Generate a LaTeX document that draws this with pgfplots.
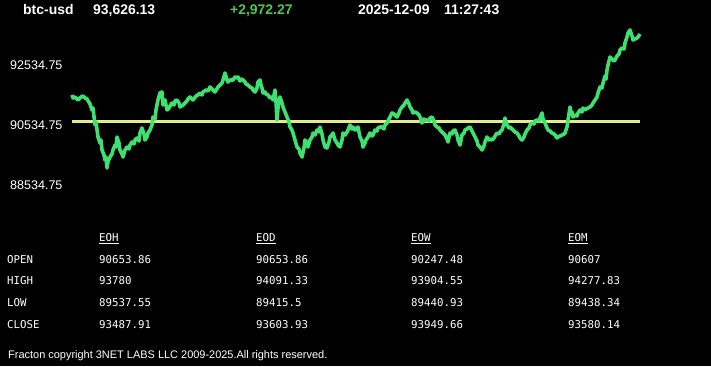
\documentclass[border=0pt]{standalone}
\usepackage{pgfplots}
\pgfplotsset{compat=1.18}
\usepackage{pgfplotstable}
\usepackage{fontspec}
\setmainfont{Liberation Sans}
\newfontfamily\monofont{DejaVu Sans Mono}
\definecolor{linegreen}{RGB}{62,224,112}
\definecolor{openyellow}{RGB}{226,236,140}
\definecolor{chggreen}{RGB}{76,200,76}

\pgfplotstableread{
t p
0 91535
1 91435
3 91468
5 91401
6 91368
9 91468
11 91501
13 91435
15 91401
18 91235
20 91035
21 91101
23 90535
24 90635
26 90135
28 89935
29 90035
30 89701
32 89535
33 89368
34 89468
35 89101
36 89301
38 89468
40 89568
41 89701
43 89868
44 89801
45 90135
47 89935
48 89701
50 89568
51 89468
53 89701
55 89801
57 89735
58 89868
60 89968
62 89901
63 90035
65 90101
67 90001
68 90268
70 90435
72 90235
73 90035
75 90135
76 90268
78 90368
80 90535
81 90801
83 90735
84 91035
86 91368
88 91601
90 91635
91 91201
93 91368
95 91035
97 91101
98 91168
100 91268
102 91201
103 91335
105 91368
107 91268
108 91135
111 91201
113 91268
115 91335
116 91401
118 91468
120 91401
121 91368
124 91501
126 91535
128 91601
130 91535
131 91635
134 91701
136 91668
138 91801
141 91701
143 91635
146 91801
148 91868
150 91935
151 92035
153 92268
155 92035
156 91968
158 92035
161 92035
163 92135
164 92101
166 92135
168 92001
169 92068
171 92035
173 91968
174 91901
176 91868
178 91801
180 91768
181 91701
183 91635
185 91768
186 91968
188 92035
189 91868
190 91768
191 91601
193 91635
194 91568
196 91535
198 91435
200 91468
201 91368
203 91701
204 91301
205 90701
206 91101
207 91368
208 91468
210 91268
211 91135
213 90968
215 90801
217 90635
218 90468
220 90368
221 90268
223 90035
225 89801
227 89735
228 89601
230 89468
232 89768
233 90035
235 89935
236 89801
238 90035
240 90135
241 90268
243 90201
245 90368
247 90301
248 90468
250 90235
251 90035
253 89801
255 89768
257 89968
258 90135
260 90201
261 90268
263 90035
265 89935
266 89868
268 89801
270 90035
271 90268
273 90201
275 90301
276 90368
278 90535
280 90401
281 90468
283 90368
285 90435
286 90468
288 90135
290 90001
291 89801
293 89935
294 90035
296 90135
298 90268
300 90168
301 90201
303 90368
305 90335
306 90435
308 90468
310 90468
312 90401
313 90535
315 90601
317 90735
318 90801
320 90935
322 90901
323 90868
325 90801
327 90935
328 91035
330 91135
332 91201
333 91268
335 91368
337 91235
338 91135
340 91035
341 90935
343 90968
345 90935
347 90868
348 90801
350 90601
352 90735
353 90701
355 90701
357 90668
358 90768
360 90801
362 90668
363 90535
365 90468
367 90435
368 90368
370 90301
371 90268
373 90201
375 90068
376 89968
378 90268
380 90235
381 90335
383 90368
385 90201
386 90035
388 89868
390 90201
392 90268
393 90368
395 90401
396 90435
398 90468
400 90335
401 90268
403 90135
405 90001
406 89868
408 89801
410 89701
412 89835
413 89968
415 90135
417 90035
418 90068
420 90035
422 90101
423 90168
425 90268
427 90235
428 90301
430 90368
432 90568
433 90768
434 90635
435 90535
437 90435
438 90468
440 90401
441 90368
443 90301
445 90268
447 90168
448 90101
450 90035
452 90135
453 90235
455 90368
457 90435
458 90535
460 90601
462 90568
463 90668
465 90701
467 90668
468 90768
470 90935
471 90735
473 90601
475 90435
476 90368
478 90335
480 90268
482 90235
483 90201
485 90101
486 90135
488 90168
490 90201
492 90235
493 90268
495 90468
496 90701
498 91135
499 90935
500 90968
501 90801
503 90868
505 90835
506 90935
508 91035
510 90968
511 91101
513 91035
514 91068
516 91101
518 91135
520 91201
521 91268
523 91368
525 91468
526 91601
528 91801
530 91768
531 91935
533 92168
534 92068
535 92368
536 92535
538 92801
540 92735
542 92668
543 92701
545 92835
547 92901
548 93035
550 93101
552 93068
553 93268
555 93468
556 93601
558 93701
559 93601
560 93501
561 93368
563 93401
565 93435
566 93468
568 93568
}\pricedata

\begin{document}
\begin{tikzpicture}[x=1bp,y=1bp]
\fill[black] (0,0) rectangle (711,366);
\begin{axis}[
  at={(72bp,171bp)}, anchor=south west,
  scale only axis, width=568bp, height=175bp,
  xmin=0, xmax=568, ymin=88201.4, ymax=94034.75,
  axis line style={draw=none},
  xtick=\empty,
  ytick={88534.75,90534.75,92534.75},
  yticklabels={88534.75,90534.75,92534.75},
  scaled y ticks=false,
  major tick length=0pt,
  yticklabel style={font=\fontsize{12.6}{15}\selectfont, text=white, xshift=-6bp},
  clip=false,
]
\addplot[color=openyellow, line width=2.6bp] coordinates {(0,90653.86) (568,90653.86)};
\addplot[color=linegreen, line width=3.6bp, line join=round] table[x=t,y=p] {\pricedata};
\end{axis}

% header
\begin{scope}[every node/.style={inner sep=0pt, anchor=base west, font=\bfseries\fontsize{14}{16}\selectfont}]
\node[text=white] at (23,352) {btc-usd};
\node[text=white] at (93,352) {93,626.13};
\node[text=chggreen] at (230,352) {+2,972.27};
\node[text=white] at (358,352) {2025-12-09};
\node[text=white] at (444,352) {11:27:43};
\end{scope}

% table
\begin{scope}[every node/.style={inner sep=0pt, anchor=base west, text=white, font=\monofont\fontsize{10.8}{13}\selectfont}]
\node at (99,124.5) {\underline{EOH}};
\node at (256,124.5) {\underline{EOD}};
\node at (411,124.5) {\underline{EOW}};
\node at (568,124.5) {\underline{EOM}};
\node at (7,102.5) {OPEN};
\node at (99,102.5) {90653.86};
\node at (256,102.5) {90653.86};
\node at (411,102.5) {90247.48};
\node at (568,102.5) {90607};
\node at (7,81.5) {HIGH};
\node at (99,81.5) {93780};
\node at (256,81.5) {94091.33};
\node at (411,81.5) {93904.55};
\node at (568,81.5) {94277.83};
\node at (7,60) {LOW};
\node at (99,60) {89537.55};
\node at (256,60) {89415.5};
\node at (411,60) {89440.93};
\node at (568,60) {89438.34};
\node at (7,38) {CLOSE};
\node at (99,38) {93487.91};
\node at (256,38) {93603.93};
\node at (411,38) {93949.66};
\node at (568,38) {93580.14};
\end{scope}

\node[inner sep=0pt, anchor=base west, text=white, font=\fontsize{11}{13}\selectfont] at (8,8) {Fracton copyright 3NET LABS LLC 2009-2025.All rights reserved.};
\end{tikzpicture}
\end{document}
